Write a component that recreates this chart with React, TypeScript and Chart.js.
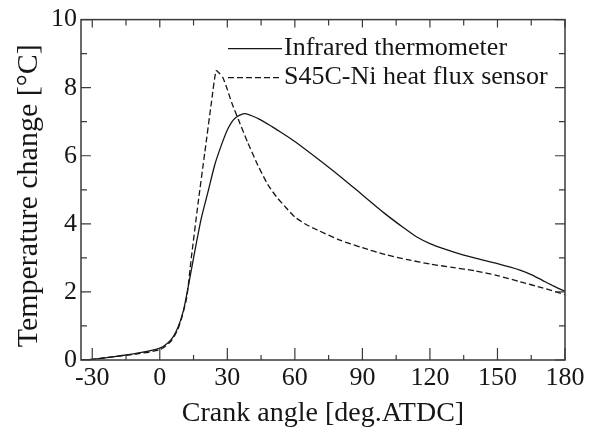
import React, { useEffect, useRef } from "react";
import { Chart, registerables } from "chart.js";

Chart.register(...registerables);

const irAngles = [-35, -30, -20, -10, 0, 5, 8, 10.5, 12.6, 15.6, 18.5, 21.5, 24.4, 27.4, 30.3, 33.2, 37.6, 43.5, 50, 55, 60, 70, 80, 90, 100, 108, 114, 120, 127, 135, 142, 150, 160, 165, 170, 175, 180];
const irValues = [0.0, 0.02, 0.1, 0.2, 0.35, 0.6, 0.95, 1.45, 2.14, 3.21, 4.18, 4.96, 5.73, 6.32, 6.8, 7.09, 7.24, 7.1, 6.85, 6.64, 6.42, 5.92, 5.4, 4.85, 4.3, 3.9, 3.62, 3.42, 3.25, 3.08, 2.96, 2.83, 2.64, 2.51, 2.34, 2.17, 2.02];

const hfAngles = [-35, -30, -20, -10, 0, 5, 8, 10, 12, 14, 17, 20, 23, 25, 26.5, 28, 30, 32, 35, 39, 43.5, 48, 52, 56, 60, 65, 70, 80, 90, 100, 110, 120, 130, 140, 150, 160, 170, 180];
const hfValues = [0.0, 0.02, 0.1, 0.18, 0.3, 0.55, 0.9, 1.3, 1.85, 3.0, 4.6, 6.1, 7.6, 8.5, 8.42, 8.3, 7.95, 7.55, 7.05, 6.4, 5.73, 5.15, 4.78, 4.48, 4.2, 3.98, 3.82, 3.52, 3.3, 3.1, 2.95, 2.82, 2.72, 2.62, 2.48, 2.3, 2.12, 1.92];

const xTicks = [-30, -15, 0, 15, 30, 45, 60, 75, 90, 105, 120, 135, 150, 165, 180];
const xLabels = [-30, 0, 30, 60, 90, 120, 150, 180];
const yTicks = [0, 1, 2, 3, 4, 5, 6, 7, 8, 9, 10];
const yLabels = [0, 2, 4, 6, 8, 10];

const seriesNames = ["Infrared thermometer", "S45C-Ni heat flux sensor"];
const xTitle = "Crank angle [deg.ATDC]";
const yTitle = "Temperature change [°C]";

const FONT = "'Liberation Serif', 'DejaVu Serif', serif";
const INK = "#161616";

const frameTicks = {
  id: "frameTicks",
  afterDatasetsDraw(chart: any) {
    const { ctx, chartArea } = chart;
    const { left, right, top, bottom } = chartArea;
    const xs = chart.scales.x;
    const ys = chart.scales.y;
    ctx.save();
    ctx.strokeStyle = "#3a3a3a";
    ctx.lineWidth = 1.5;
    ctx.strokeRect(left, top, right - left, bottom - top);
    ctx.lineWidth = 1.2;
    ctx.beginPath();
    for (const v of xTicks) {
      const px = xs.getPixelForValue(v);
      const major = xLabels.includes(v);
      const lb = major ? 12 : 5;
      const lt = major ? 8 : 6;
      ctx.moveTo(px, bottom);
      ctx.lineTo(px, bottom - lb);
      ctx.moveTo(px, top);
      ctx.lineTo(px, top + lt);
    }
    for (const v of yTicks) {
      const py = ys.getPixelForValue(v);
      const major = yLabels.includes(v);
      const l = major ? 10 : 6;
      ctx.moveTo(left, py);
      ctx.lineTo(left + l, py);
      ctx.moveTo(right, py);
      ctx.lineTo(right - l, py);
    }
    ctx.stroke();

    // y-axis title
    ctx.save();
    ctx.translate(29, (top + bottom) / 2 + 6);
    ctx.rotate(-Math.PI / 2);
    ctx.font = `30px ${FONT}`;
    ctx.fillStyle = INK;
    ctx.textAlign = "center";
    ctx.textBaseline = "middle";
    ctx.fillText(yTitle, 0, 0);
    ctx.restore();

    // legend
    const ds = chart.data.datasets;
    const lx0 = xs.getPixelForValue(-35) + 147;
    const rows = [top + 29, top + 58];
    ctx.font = `26px ${FONT}`;
    ctx.fillStyle = INK;
    ctx.textBaseline = "middle";
    ctx.textAlign = "left";
    ds.forEach((d: any, i: number) => {
      const y = rows[i];
      ctx.beginPath();
      ctx.strokeStyle = INK;
      ctx.lineWidth = 1.3;
      ctx.setLineDash(d.borderDash || []);
      ctx.moveTo(lx0, y);
      ctx.lineTo(lx0 + 54, y);
      ctx.stroke();
      ctx.setLineDash([]);
      ctx.fillText(d.label, lx0 + 56, y);
    });
    ctx.restore();
  },
};

export default function App() {
  const ref = useRef<HTMLCanvasElement>(null);
  useEffect(() => {
    const canvas = ref.current;
    if (!canvas) return;
    const chart = new Chart(canvas, {
      type: "line",
      data: {
        datasets: [
          {
            label: seriesNames[0],
            data: irAngles.map((a, i) => ({ x: a, y: irValues[i] })),
            borderColor: INK,
            borderWidth: 1.3,
            pointRadius: 0,
            tension: 0.25,
            fill: false,
          },
          {
            label: seriesNames[1],
            data: hfAngles.map((a, i) => ({ x: a, y: hfValues[i] })),
            borderColor: INK,
            borderWidth: 1.3,
            borderDash: [6, 3],
            pointRadius: 0,
            tension: 0.2,
            fill: false,
          },
        ],
      },
      options: {
        responsive: false,
        animation: false,
        layout: { padding: { top: 17, right: 37, left: 0, bottom: 0 } },
        plugins: { legend: { display: false }, tooltip: { enabled: false } },
        scales: {
          x: {
            type: "linear",
            min: -35,
            max: 180,
            afterBuildTicks: (s: any) => {
              s.ticks = xTicks.map((v) => ({ value: v }));
            },
            afterFit: (s: any) => {
              s.height = 72;
            },
            grid: { display: false, drawTicks: false },
            border: { display: false },
            ticks: {
              autoSkip: false,
              maxRotation: 0,
              padding: 3,
              color: INK,
              font: { family: FONT, size: 26 },
              callback: (v: any) => (xLabels.includes(Number(v)) ? String(v) : ""),
            },
            title: {
              display: true,
              text: xTitle,
              color: INK,
              font: { family: FONT, size: 28 },
              padding: { top: 0, bottom: 2 },
            },
          },
          y: {
            type: "linear",
            min: 0,
            max: 10,
            afterBuildTicks: (s: any) => {
              s.ticks = yTicks.map((v) => ({ value: v }));
            },
            afterFit: (s: any) => {
              s.width = 81;
            },
            grid: { display: false, drawTicks: false },
            border: { display: false },
            ticks: {
              autoSkip: false,
              padding: 4,
              color: INK,
              font: { family: FONT, size: 26 },
              callback: (v: any) => (yLabels.includes(Number(v)) ? String(v) : ""),
            },
            title: { display: false },
          },
        },
      },
      plugins: [frameTicks],
    });
    return () => chart.destroy();
  }, []);
  return (
    <div style={{ position: "fixed", left: 0, top: 0, width: 602, height: 432, background: "#fff" }}>
      <canvas ref={ref} width={602} height={432} style={{ display: "block" }} />
    </div>
  );
}
